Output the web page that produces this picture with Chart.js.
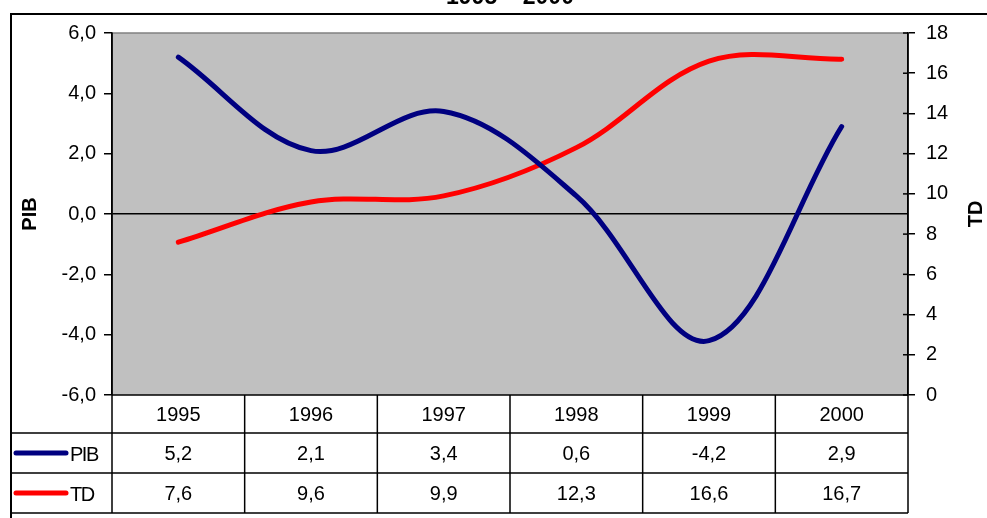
<!DOCTYPE html>
<html>
<head>
<meta charset="utf-8">
<title>PIB et TD 1995 - 2000</title>
<script src="https://cdn.jsdelivr.net/npm/chart.js@4/dist/chart.umd.min.js"></script>
<style>
    html, body { margin: 0; padding: 0; background: #fff; }
    .container { position: relative; width: 987px; height: 518px; }
</style>
</head>
<body>
<div class="container">
    <canvas id="pib-chart"></canvas>
</div>
<script>
const chartTitle = '1995 – 2000';
const years = ['1995', '1996', '1997', '1998', '1999', '2000'];
const pibValues = [5.2, 2.1, 3.4, 0.6, -4.2, 2.9];
const tdValues = [7.6, 9.6, 9.9, 12.3, 16.6, 16.7];
const pibAxisMin = -6;
const pibAxisMax = 6;
const tdAxisMin = 0;
const tdAxisMax = 18;
const axisStep = 2;

const FONT = '"Liberation Sans", Arial, sans-serif';
const PIB_COLOR = '#000080';
const TD_COLOR = '#FF0000';

function frNumber(v, digits) {
    return v.toFixed(digits).replace('.', ',');
}

document.addEventListener('DOMContentLoaded', function () {
    const ctx = document.getElementById('pib-chart').getContext('2d');

    Chart.defaults.font.family = FONT;
    Chart.defaults.font.size = 20;
    Chart.defaults.color = '#000';

    // grey plot area, frame and title
    const backgroundPlugin = {
        id: 'plotBackground',
        beforeDraw(chart) {
            const c = chart.ctx;
            const a = chart.chartArea;
            c.save();
            c.fillStyle = '#C0C0C0';
            c.fillRect(a.left, a.top, a.right - a.left, a.bottom - a.top);
            c.strokeStyle = '#808080';
            c.lineWidth = 1.5;
            c.beginPath();
            c.moveTo(a.left, a.top);
            c.lineTo(a.right, a.top);
            c.stroke();

            // outer frame
            c.strokeStyle = '#000';
            c.lineWidth = 2;
            c.beginPath();
            c.moveTo(11, 520);
            c.lineTo(11, 14);
            c.lineTo(990, 14);
            c.stroke();

            // title (clipped at top, as in the source)
            c.fillStyle = '#000';
            c.font = 'bold 23px ' + FONT;
            c.textAlign = 'center';
            c.textBaseline = 'alphabetic';
            c.fillText(chartTitle, 510, 4);
            c.restore();
        }
    };

    // data table under the plot, axis titles, inner ticks of right axis
    const tablePlugin = {
        id: 'dataTable',
        afterDraw(chart) {
            const c = chart.ctx;
            const a = chart.chartArea;
            const xs = chart.scales.x;
            const y1 = chart.scales.y1;
            const half = (xs.getPixelForValue(1) - xs.getPixelForValue(0)) / 2;
            const rowTop = a.bottom;
            const rows = [rowTop, rowTop + 38, rowTop + 78, rowTop + 118];
            const tableLeft = 11;

            c.save();
            c.strokeStyle = '#000';
            c.lineWidth = 1.5;

            // inner halves of the right axis ticks
            y1.ticks.forEach(function (t) {
                const py = y1.getPixelForValue(t.value);
                c.beginPath();
                c.moveTo(a.right - 5, py);
                c.lineTo(a.right, py);
                c.stroke();
            });

            // horizontal rules
            c.beginPath();
            c.moveTo(a.left, rows[0]);
            c.lineTo(a.right, rows[0]);
            for (let r = 1; r < rows.length; r++) {
                c.moveTo(tableLeft, rows[r]);
                c.lineTo(a.right, rows[r]);
            }
            // vertical rules
            c.moveTo(a.left, a.top);
            c.lineTo(a.left, rows[3]);
            c.moveTo(a.right, a.top);
            c.lineTo(a.right, rows[3]);
            years.forEach(function (yr, i) {
                const bx = xs.getPixelForValue(i) + half;
                c.moveTo(bx, rows[0]);
                c.lineTo(bx, rows[3]);
            });
            c.moveTo(tableLeft, rows[1]);
            c.lineTo(tableLeft, rows[3]);
            c.stroke();

            // cell texts
            c.fillStyle = '#000';
            c.font = '20px ' + FONT;
            c.textAlign = 'center';
            c.textBaseline = 'middle';
            years.forEach(function (yr, i) {
                const cx = xs.getPixelForValue(i);
                c.fillText(yr, cx, (rows[0] + rows[1]) / 2 + 1);
                c.fillText(frNumber(pibValues[i], 1), cx, (rows[1] + rows[2]) / 2 + 1);
                c.fillText(frNumber(tdValues[i], 1), cx, (rows[2] + rows[3]) / 2 + 1);
            });

            // legend keys
            const keys = [
                { label: 'PIB', color: PIB_COLOR, y: (rows[1] + rows[2]) / 2 },
                { label: 'TD', color: TD_COLOR, y: (rows[2] + rows[3]) / 2 }
            ];
            keys.forEach(function (k) {
                c.strokeStyle = k.color;
                c.lineWidth = 5;
                c.lineCap = 'round';
                c.beginPath();
                c.moveTo(16, k.y);
                c.lineTo(66, k.y);
                c.stroke();
                c.textAlign = 'left';
                c.letterSpacing = '-1.5px';
                c.fillText(k.label, 70, k.y + 2);
                c.letterSpacing = '0px';
            });

            // axis titles, both reading bottom to top
            c.font = 'bold 20px ' + FONT;
            c.textAlign = 'center';
            [['PIB', 30], ['TD', 976]].forEach(function (t) {
                c.save();
                c.translate(t[1], (a.top + a.bottom) / 2);
                c.rotate(-Math.PI / 2);
                c.fillText(t[0], 0, 0);
                c.restore();
            });
            c.restore();
        }
    };

    const pibChart = new Chart(ctx, {
        type: 'line',
        data: {
            labels: years,
            datasets: [{
                label: 'PIB',
                data: pibValues,
                yAxisID: 'y',
                borderColor: PIB_COLOR,
                borderWidth: 5,
                pointRadius: 0,
                tension: 0.35,
                borderCapStyle: 'round',
                borderJoinStyle: 'round'
            }, {
                label: 'TD',
                data: tdValues,
                yAxisID: 'y1',
                borderColor: TD_COLOR,
                borderWidth: 5,
                pointRadius: 0,
                tension: 0.35,
                borderCapStyle: 'round',
                borderJoinStyle: 'round'
            }]
        },
        options: {
            responsive: true,
            maintainAspectRatio: false,
            animation: false,
            layout: { padding: { top: 33, bottom: 123, left: 0, right: 0 } },
            plugins: {
                legend: { display: false },
                title: { display: false },
                tooltip: { enabled: false }
            },
            scales: {
                x: {
                    display: false,
                    offset: true
                },
                y: {
                    position: 'left',
                    min: pibAxisMin,
                    max: pibAxisMax,
                    afterFit: function (scale) { scale.width = 112; },
                    border: { display: true, color: '#000', width: 1.5 },
                    grid: {
                        drawOnChartArea: true,
                        tickLength: 8,
                        tickColor: '#000',
                        lineWidth: 1.5,
                        color: function (c) {
                            return c.tick && c.tick.value === 0 ? '#000' : 'rgba(0,0,0,0)';
                        }
                    },
                    ticks: {
                        stepSize: axisStep,
                        padding: 8,
                        font: { size: 20 },
                        callback: function (v) { return frNumber(v, 1); }
                    }
                },
                y1: {
                    position: 'right',
                    min: tdAxisMin,
                    max: tdAxisMax,
                    afterFit: function (scale) { scale.width = 79; },
                    border: { display: true, color: '#000', width: 1.5 },
                    grid: {
                        drawOnChartArea: false,
                        tickLength: 7,
                        tickColor: '#000',
                        lineWidth: 1.5
                    },
                    ticks: {
                        stepSize: axisStep,
                        padding: 11,
                        font: { size: 20 }
                    }
                }
            }
        },
        plugins: [backgroundPlugin, tablePlugin]
    });
});
</script>
</body>
</html>
